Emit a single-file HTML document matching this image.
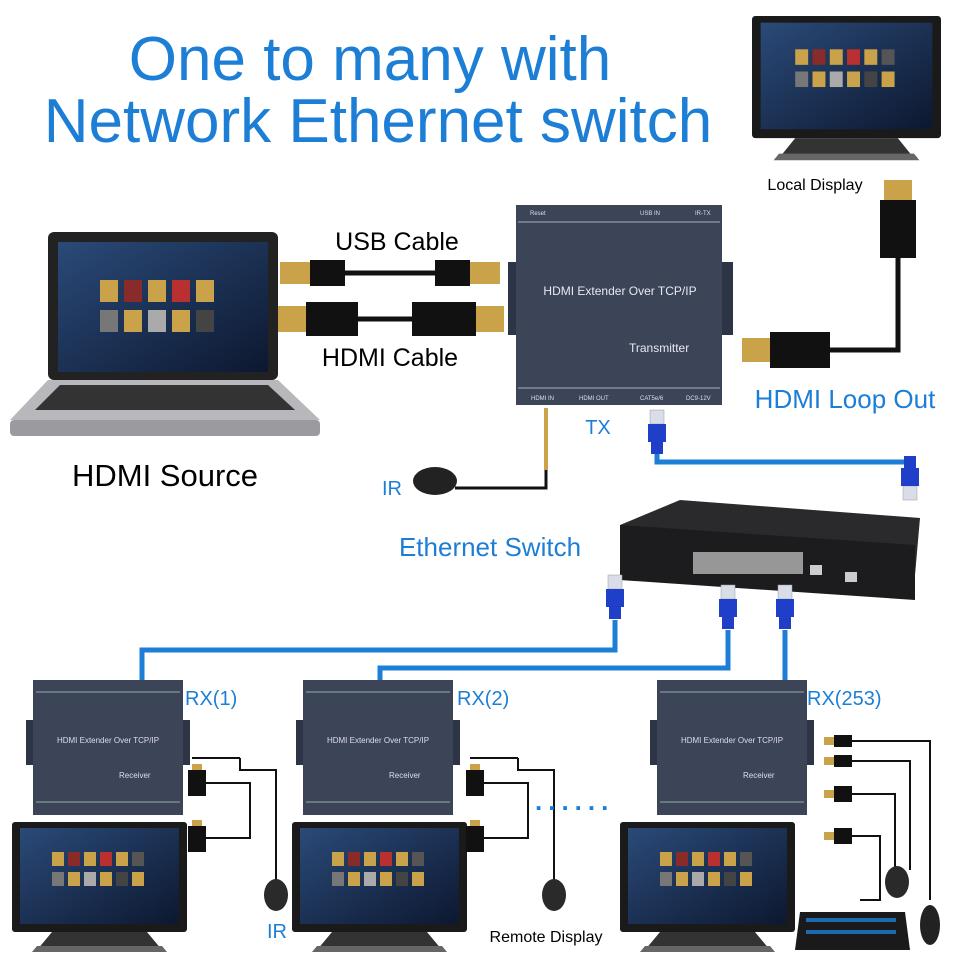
<!DOCTYPE html>
<html><head><meta charset="utf-8"><style>
body{margin:0;background:#fff;width:960px;height:960px;overflow:hidden}
svg{display:block}
text{font-family:"Liberation Sans",sans-serif}
</style></head><body>
<svg width="960" height="960" viewBox="0 0 960 960" xmlns="http://www.w3.org/2000/svg">
<defs>
<linearGradient id="scr" x1="0" y1="0" x2="1" y2="1"><stop offset="0" stop-color="#2a4a78"/><stop offset="1" stop-color="#0d1830"/></linearGradient>
<g id="mon">
<rect x="0" y="0" width="175" height="110" rx="3" fill="#1a1a1a"/>
<rect x="8" y="6" width="159" height="96" fill="url(#scr)"/>
<g fill="#c9a24a"><rect x="40" y="30" width="12" height="14"/><rect x="56" y="30" width="12" height="14" fill="#8a2b2b"/><rect x="72" y="30" width="12" height="14"/><rect x="88" y="30" width="12" height="14" fill="#b83030"/><rect x="104" y="30" width="12" height="14"/><rect x="120" y="30" width="12" height="14" fill="#555"/>
<rect x="40" y="50" width="12" height="14" fill="#777"/><rect x="56" y="50" width="12" height="14"/><rect x="72" y="50" width="12" height="14" fill="#aaa"/><rect x="88" y="50" width="12" height="14"/><rect x="104" y="50" width="12" height="14" fill="#444"/><rect x="120" y="50" width="12" height="14"/></g>
<path d="M40 110 L135 110 L150 128 L25 128 Z" fill="#333"/>
<path d="M25 124 L150 124 L155 130 L20 130Z" fill="#666"/>
</g>
<g id="rj">
<rect x="-7" y="0" width="14" height="14" fill="#d8dde8" stroke="#999" stroke-width="0.5"/>
<rect x="-9" y="14" width="18" height="18" fill="#1f3fc8"/>
<rect x="-6" y="32" width="12" height="12" fill="#1f3fc8"/>
</g>
<g id="rx">
<rect x="0" y="0" width="150" height="135" fill="#3c4558"/>
<line x1="3" y1="12" x2="147" y2="12" stroke="#9aa" stroke-width="1"/>
<line x1="3" y1="122" x2="147" y2="122" stroke="#9aa" stroke-width="1"/>
<rect x="-7" y="40" width="7" height="45" fill="#2d3446"/>
<rect x="150" y="40" width="7" height="45" fill="#2d3446"/>
<text x="75" y="63" fill="#dde" font-size="8" text-anchor="middle">HDMI Extender Over TCP/IP</text>
<text x="86" y="98" fill="#dde" font-size="8">Receiver</text>
</g>
</defs>

<text x="370" y="80" font-size="62" fill="#1d7ed6" text-anchor="middle">One to many with</text>
<text x="378" y="142" font-size="62" fill="#1d7ed6" text-anchor="middle">Network Ethernet switch</text>

<!-- top monitor -->
<g transform="translate(752,16) scale(1.08,1.11)"><use href="#mon"/></g>
<text x="815" y="190" font-size="16" fill="#000" text-anchor="middle">Local Display</text>
<rect x="884" y="180" width="28" height="20" fill="#c9a24a"/>
<rect x="880" y="200" width="36" height="58" fill="#111"/>
<path d="M898 258 V350 H830" stroke="#111" stroke-width="5" fill="none"/>
<rect x="770" y="332" width="60" height="36" fill="#111"/>
<rect x="742" y="338" width="28" height="24" fill="#c9a24a"/>
<text x="845" y="408" font-size="26" fill="#1d7ed6" text-anchor="middle">HDMI Loop Out</text>

<!-- laptop -->
<rect x="48" y="232" width="230" height="148" rx="6" fill="#222"/>
<rect x="58" y="242" width="210" height="130" fill="url(#scr)"/>
<g fill="#c9a24a"><rect x="100" y="280" width="18" height="22"/><rect x="124" y="280" width="18" height="22" fill="#8a2b2b"/><rect x="148" y="280" width="18" height="22"/><rect x="172" y="280" width="18" height="22" fill="#b83030"/><rect x="196" y="280" width="18" height="22"/>
<rect x="100" y="310" width="18" height="22" fill="#777"/><rect x="124" y="310" width="18" height="22"/><rect x="148" y="310" width="18" height="22" fill="#aaa"/><rect x="172" y="310" width="18" height="22"/><rect x="196" y="310" width="18" height="22" fill="#444"/></g>
<path d="M48 380 L278 380 L320 420 L10 420 Z" fill="#b8b8bc"/>
<path d="M60 385 L268 385 L295 410 L35 410 Z" fill="#333"/>
<rect x="10" y="420" width="310" height="16" rx="4" fill="#9a9aa0"/>
<text x="165" y="486" font-size="31" fill="#000" text-anchor="middle">HDMI Source</text>

<!-- cables -->
<text x="397" y="250" font-size="25" fill="#000" text-anchor="middle">USB Cable</text>
<rect x="280" y="262" width="30" height="22" fill="#c9a24a"/><rect x="310" y="260" width="35" height="26" fill="#111"/>
<line x1="345" y1="273" x2="435" y2="273" stroke="#111" stroke-width="5"/>
<rect x="435" y="260" width="35" height="26" fill="#111"/><rect x="470" y="262" width="30" height="22" fill="#c9a24a"/>
<rect x="278" y="306" width="28" height="26" fill="#c9a24a"/><rect x="306" y="302" width="52" height="34" fill="#111"/>
<line x1="358" y1="319" x2="412" y2="319" stroke="#111" stroke-width="5"/>
<rect x="412" y="302" width="64" height="34" fill="#111"/><rect x="476" y="306" width="28" height="26" fill="#c9a24a"/>
<text x="390" y="366" font-size="25" fill="#000" text-anchor="middle">HDMI Cable</text>

<!-- TX box -->
<rect x="508" y="262" width="10" height="73" fill="#2d3446"/>
<rect x="720" y="262" width="13" height="73" fill="#2d3446"/>
<rect x="516" y="205" width="206" height="200" fill="#3c4558"/>
<line x1="518" y1="222" x2="720" y2="222" stroke="#aab" stroke-width="1"/>
<line x1="518" y1="388" x2="720" y2="388" stroke="#aab" stroke-width="1"/>
<text x="620" y="295" font-size="12" fill="#e8e8ee" text-anchor="middle">HDMI Extender Over TCP/IP</text>
<text x="629" y="352" font-size="12" fill="#e8e8ee">Transmitter</text>
<g font-size="6" fill="#dde"><text x="531" y="400">HDMI IN</text><text x="579" y="400">HDMI OUT</text><text x="640" y="400">CAT5e/6</text><text x="686" y="400">DC9-12V</text><text x="530" y="215">Reset</text><text x="640" y="215">USB IN</text><text x="695" y="215">IR-TX</text></g>
<text x="598" y="434" font-size="20" fill="#1d7ed6" text-anchor="middle">TX</text>

<!-- IR -->
<line x1="546" y1="408" x2="546" y2="470" stroke="#c9a24a" stroke-width="4"/>
<path d="M546 470 V488 H455" stroke="#111" stroke-width="3" fill="none"/>
<ellipse cx="435" cy="481" rx="22" ry="14" fill="#222"/>
<text x="392" y="495" font-size="20" fill="#1d7ed6" text-anchor="middle">IR</text>

<use href="#rj" transform="translate(657,410)"/>
<path d="M657 454 V462 H910 V470" stroke="#1d7ed6" stroke-width="5" fill="none"/>
<use href="#rj" transform="translate(910,500) scale(1,-1)"/>

<!-- switch -->
<path d="M620 525 L680 500 L920 518 L915 575 L620 565 Z" fill="#2a2a2c"/>
<path d="M620 525 L915 545 L915 600 L620 580 Z" fill="#1c1c1e"/>
<rect x="693" y="552" width="110" height="22" fill="#ccc" opacity="0.7"/>
<rect x="810" y="565" width="12" height="10" fill="#ccc"/><rect x="845" y="572" width="12" height="10" fill="#ccc"/>
<text x="490" y="556" font-size="26" fill="#1d7ed6" text-anchor="middle">Ethernet Switch</text>

<use href="#rj" transform="translate(615,575)"/>
<use href="#rj" transform="translate(728,585)"/>
<use href="#rj" transform="translate(785,585)"/>
<g stroke="#1d7ed6" stroke-width="5" fill="none">
<path d="M615 620 V650 H142 V680"/>
<path d="M728 630 V668 H380 V680"/>
<path d="M785 630 V680"/>
</g>

<use href="#rx" transform="translate(33,680)"/>
<use href="#rx" transform="translate(303,680)"/>
<use href="#rx" transform="translate(657,680)"/>
<text x="185" y="705" font-size="20" fill="#1d7ed6">RX(1)</text>
<text x="457" y="705" font-size="20" fill="#1d7ed6">RX(2)</text>
<text x="807" y="705" font-size="20" fill="#1d7ed6">RX(253)</text>

<use href="#mon" transform="translate(12,822)"/>
<use href="#mon" transform="translate(292,822)"/>
<use href="#mon" transform="translate(620,822)"/>

<g id="rxc">
<line x1="192" y1="758" x2="240" y2="758" stroke="#111" stroke-width="2"/>
<rect x="188" y="770" width="18" height="26" fill="#111"/><rect x="192" y="764" width="10" height="6" fill="#c9a24a"/>
<rect x="188" y="826" width="18" height="26" fill="#111"/><rect x="192" y="820" width="10" height="6" fill="#c9a24a"/>
<path d="M206 783 H250 V838 H206" stroke="#111" stroke-width="2" fill="none"/>
<path d="M240 758 V770 H276 V880" stroke="#111" stroke-width="2" fill="none"/>
<ellipse cx="276" cy="895" rx="12" ry="16" fill="#2a2a2a"/>
</g>
<use href="#rxc" transform="translate(278,0)"/>
<text x="277" y="938" font-size="20" fill="#1d7ed6" text-anchor="middle">IR</text>
<text x="546" y="942" font-size="16" fill="#000" text-anchor="middle">Remote Display</text>
<text x="535" y="810" font-size="26" fill="#1d7ed6" font-weight="bold" letter-spacing="6">......</text>

<g fill="#c9a24a"><rect x="824" y="737" width="10" height="8"/><rect x="824" y="757" width="10" height="8"/><rect x="824" y="790" width="10" height="8"/><rect x="824" y="832" width="10" height="8"/></g>
<g fill="#111"><rect x="834" y="735" width="18" height="12"/><rect x="834" y="755" width="18" height="12"/><rect x="834" y="786" width="18" height="16"/><rect x="834" y="828" width="18" height="16"/></g>
<g stroke="#111" stroke-width="2" fill="none">
<path d="M852 741 H930 V900"/><path d="M852 761 H910 V870"/><path d="M852 794 H895 V870"/><path d="M852 836 H880 V900 H860"/>
</g>
<ellipse cx="897" cy="882" rx="12" ry="16" fill="#2a2a2a"/>
<path d="M800 912 L905 912 L910 950 L795 950 Z" fill="#1a1a1a"/>
<g fill="#1d7ed6"><rect x="806" y="918" width="90" height="4" opacity="0.8"/><rect x="806" y="930" width="90" height="4" opacity="0.8"/></g>
<ellipse cx="930" cy="925" rx="10" ry="20" fill="#222"/>
</svg>
</body></html>
